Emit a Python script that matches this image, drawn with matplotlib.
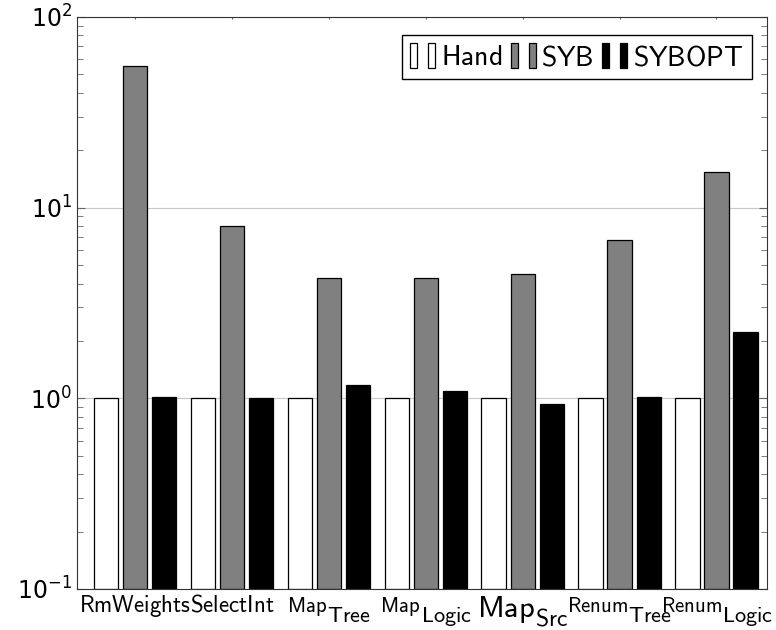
import numpy as np
import matplotlib.pyplot as plt
from matplotlib.ticker import LogLocator, NullFormatter
from matplotlib.legend_handler import HandlerTuple

plt.rcParams['mathtext.fontset'] = 'cm'
plt.rcParams['font.family'] = ['DejaVu Sans']

names = ['RmWeights', 'SelectInt', 'Map', 'Map', 'Map', 'Renum', 'Renum']
subs = ['', '', 'Tree', 'Logic', 'Src', 'Tree', 'Logic']
hand = [1, 1, 1, 1, 1, 1, 1]
syb = [55, 8.05, 4.3, 4.3, 4.5, 6.8, 15.3]
sybopt = [1.01, 1.0, 1.18, 1.09, 0.93, 1.01, 2.22]

fig = plt.figure(figsize=(7.76, 6.30), dpi=100)
ax = fig.add_axes([0.0992, 0.0651, 0.889, 0.908])

x = np.arange(len(names))
w = 0.25
off = 0.30
b0 = 0.1
bh = ax.bar(x - off, np.array(hand) - b0, w, bottom=b0, color='white', edgecolor='black', linewidth=0.9)
bs = ax.bar(x, np.array(syb) - b0, w, bottom=b0, color='#808080', edgecolor='black', linewidth=0.9)
bo = ax.bar(x + off, np.array(sybopt) - b0, w, bottom=b0, color='black', edgecolor='black', linewidth=0.9)

ax.set_yscale('log')
ax.set_ylim(0.1, 100)
ax.set_xlim(-0.6, 6.52)
ax.yaxis.set_major_locator(LogLocator(base=10, numticks=10))
ax.yaxis.set_minor_locator(LogLocator(base=10, subs=np.arange(2, 10), numticks=10))
ax.yaxis.set_minor_formatter(NullFormatter())
ax.grid(axis='y', which='major', color='#c8c8c8', linewidth=0.8)
ax.set_axisbelow(True)
ax.tick_params(axis='y', which='both', direction='in', left=True, right=True, labelsize=17, color='#666666')
ax.tick_params(axis='y', which='major', length=6)
ax.tick_params(axis='y', which='minor', length=4)
ax.set_xticks(x)
ax.set_xticklabels([])
ax.tick_params(axis='x', direction='in', length=1.5, top=True, color='#666666')
for s in ax.spines.values():
    s.set_color('#333333')

# category labels with large subscripts (pgfplots style)
trans = ax.get_xaxis_transform()
fig.canvas.draw()
r = fig.canvas.get_renderer()
for i, (nm, sb) in enumerate(zip(names, subs)):
    if sb == '':
        bsz, ssz, by, sy = 16.5, 16, -23, -33
    elif sb == 'Src':
        bsz, ssz, by, sy = 22, 17, -28, -37
    else:
        bsz, ssz, by, sy = 15, 16, -23, -33
    t1 = ax.annotate(r'$\mathsf{%s}$' % nm, (i, 0), xycoords=trans, textcoords='offset pixels',
                     xytext=(0, by), ha='left', va='baseline', fontsize=bsz, annotation_clip=False)
    w1 = t1.get_window_extent(r).width
    w2 = 0
    if sb:
        t2 = ax.annotate(r'$\mathsf{%s}$' % sb, (i, 0), xycoords=trans, textcoords='offset pixels',
                         xytext=(0, sy), ha='left', va='baseline', fontsize=ssz, annotation_clip=False)
        w2 = t2.get_window_extent(r).width
        t2.set_position((w1 - (w1 + w2) / 2, sy))
    t1.set_position((-(w1 + w2) / 2, by))

ax.legend([(bh[0], bh[0]), (bs[0], bs[0]), (bo[0], bo[0])],
          [r'$\mathsf{Hand}$', r'$\mathsf{SYB}$', r'$\mathsf{SYBOPT}$'],
          handler_map={tuple: HandlerTuple(ndivide=None, pad=0.4)},
          loc='upper right', ncol=3, fontsize=20, frameon=True, fancybox=False,
          edgecolor='black', handlelength=0.9, handleheight=1.0, handletextpad=0.2,
          columnspacing=0.3, borderpad=0.3, borderaxespad=0,
          bbox_to_anchor=(0.978, 0.969), framealpha=1)

plt.savefig('out.png', dpi=100)
